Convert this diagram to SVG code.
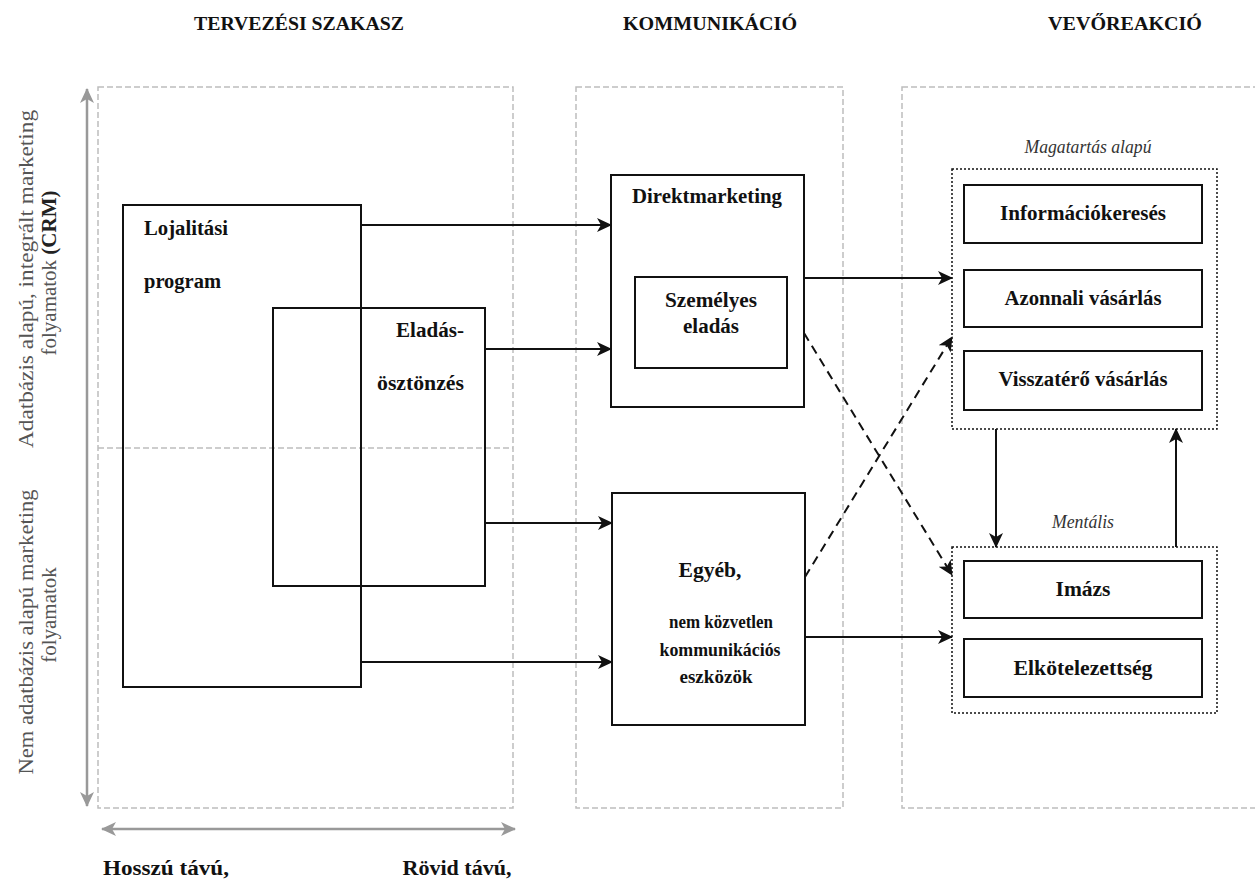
<svg xmlns="http://www.w3.org/2000/svg" width="1255" height="880" viewBox="0 0 1255 880">
<defs>
<style>
text{font-family:"Liberation Serif","DejaVu Serif",serif;fill:#111}
.hdr{font-size:19px;font-weight:bold;text-anchor:middle}
.b{font-size:20px;font-weight:bold;text-anchor:middle}
.s{font-size:19px}
.side{font-size:21px;fill:#555;text-anchor:middle}
.cat{font-size:18px;font-style:italic;fill:#333;text-anchor:middle}
.panel{fill:none;stroke:#bdbdbd;stroke-width:1.5;stroke-dasharray:6 3}
.box{fill:#fff;stroke:#111;stroke-width:2}
.boxn{fill:none;stroke:#111;stroke-width:2}
.dot{fill:none;stroke:#111;stroke-width:1.5;stroke-dasharray:2 2}
.arr{fill:none;stroke:#111;stroke-width:2;marker-end:url(#ah)}
.darr{fill:none;stroke:#111;stroke-width:2;stroke-dasharray:9 6;marker-end:url(#ah)}
.garr{fill:none;stroke:#999;stroke-width:2.5;marker-start:url(#gs);marker-end:url(#ge)}
</style>
<marker id="ah" markerUnits="userSpaceOnUse" markerWidth="16" markerHeight="14" refX="14" refY="7" orient="auto"><path d="M0,0 L15,7 L0,14 L4,7 z" fill="#111"/></marker>
<marker id="ge" markerUnits="userSpaceOnUse" markerWidth="16" markerHeight="14" refX="14" refY="7" orient="auto"><path d="M0,0 L15,7 L0,14 L4,7 z" fill="#999"/></marker>
<marker id="gs" markerUnits="userSpaceOnUse" markerWidth="16" markerHeight="14" refX="1" refY="7" orient="auto"><path d="M15,0 L0,7 L15,14 L11,7 z" fill="#999"/></marker>
</defs>
<rect width="1255" height="880" fill="#fff"/>

<g id="headers">
<text class="hdr" x="299" y="30" textLength="210" lengthAdjust="spacingAndGlyphs">TERVEZÉSI SZAKASZ</text>
<text class="hdr" x="710" y="30" textLength="174" lengthAdjust="spacingAndGlyphs">KOMMUNIKÁCIÓ</text>
<text class="hdr" x="1125" y="30" textLength="154" lengthAdjust="spacingAndGlyphs">VEVŐREAKCIÓ</text>
</g>

<g id="panels">
<rect class="panel" x="98" y="87" width="415" height="721"/>
<line class="panel" x1="98" y1="448" x2="513" y2="448"/>
<rect class="panel" x="576" y="87" width="267" height="721"/>
<rect class="panel" x="902" y="87" width="370" height="721"/>
</g>

<g id="axes">
<line class="garr" x1="87" y1="806" x2="87" y2="89"/>
<line class="garr" x1="102" y1="829" x2="515" y2="829"/>
<text class="side" transform="translate(33,279) rotate(-90)" textLength="338" lengthAdjust="spacingAndGlyphs">Adatbázis alapú, integrált marketing</text>
<text class="side" transform="translate(56,273) rotate(-90)">folyamatok <tspan font-weight="bold" fill="#222">(CRM)</tspan></text>
<text class="side" transform="translate(33,632) rotate(-90)" textLength="285" lengthAdjust="spacingAndGlyphs">Nem adatbázis alapú marketing</text>
<text class="side" transform="translate(56,615) rotate(-90)">folyamatok</text>
<text class="b" x="166" y="875" textLength="126" lengthAdjust="spacingAndGlyphs">Hosszú távú,</text>
<text class="b" x="457" y="875" textLength="109" lengthAdjust="spacingAndGlyphs">Rövid távú,</text>
</g>

<g id="lojalitasi">
<rect class="boxn" x="123" y="205" width="238" height="482"/>
<text class="b" x="144" y="235" style="text-anchor:start" textLength="84" lengthAdjust="spacingAndGlyphs">Lojalitási</text>
<text class="b" x="144" y="288" style="text-anchor:start" textLength="77" lengthAdjust="spacingAndGlyphs">program</text>
</g>

<g id="eladasosztonzes">
<rect class="boxn" x="273" y="308" width="212" height="278"/>
<text class="b" x="464" y="337" style="text-anchor:end" textLength="68" lengthAdjust="spacingAndGlyphs">Eladás-</text>
<text class="b" x="464" y="390" style="text-anchor:end" textLength="87" lengthAdjust="spacingAndGlyphs">ösztönzés</text>
</g>

<g id="direktmarketing">
<rect class="box" x="611" y="175" width="193" height="232"/>
<text class="b" x="707" y="203" textLength="150" lengthAdjust="spacingAndGlyphs">Direktmarketing</text>
</g>

<g id="szemelyes">
<rect class="box" x="635" y="277" width="152" height="91"/>
<text class="b" x="711" y="307" textLength="92" lengthAdjust="spacingAndGlyphs">Személyes</text>
<text class="b" x="711" y="333" textLength="56" lengthAdjust="spacingAndGlyphs">eladás</text>
</g>

<g id="egyeb">
<rect class="box" x="612" y="493" width="193" height="232"/>
<text class="b" x="710" y="577" textLength="63" lengthAdjust="spacingAndGlyphs">Egyéb,</text>
<text class="b s" x="721" y="628" textLength="104" lengthAdjust="spacingAndGlyphs">nem közvetlen</text>
<text class="b s" x="720" y="656" textLength="121" lengthAdjust="spacingAndGlyphs">kommunikációs</text>
<text class="b s" x="716" y="683" textLength="73" lengthAdjust="spacingAndGlyphs">eszközök</text>
</g>

<g id="magatartas">
<text class="cat" x="1088" y="153" textLength="127" lengthAdjust="spacingAndGlyphs">Magatartás alapú</text>
<rect class="dot" x="952" y="169" width="265" height="260"/>
</g>

<g id="informaciokereses">
<rect class="box" x="964" y="185" width="238" height="58"/>
<text class="b" x="1083" y="220" textLength="166" lengthAdjust="spacingAndGlyphs">Információkeresés</text>
</g>
<g id="azonnali">
<rect class="box" x="964" y="270" width="238" height="57"/>
<text class="b" x="1083" y="305" textLength="157" lengthAdjust="spacingAndGlyphs">Azonnali vásárlás</text>
</g>
<g id="visszatero">
<rect class="box" x="964" y="351" width="238" height="59"/>
<text class="b" x="1083" y="386" textLength="169" lengthAdjust="spacingAndGlyphs">Visszatérő vásárlás</text>
</g>

<g id="mentalis">
<text class="cat" x="1083" y="528" textLength="62" lengthAdjust="spacingAndGlyphs">Mentális</text>
<rect class="dot" x="952" y="547" width="265" height="166"/>
</g>
<g id="imazs">
<rect class="box" x="964" y="561" width="238" height="57"/>
<text class="b" x="1083" y="596" textLength="55" lengthAdjust="spacingAndGlyphs">Imázs</text>
</g>
<g id="elkotelezettseg">
<rect class="box" x="964" y="639" width="238" height="58"/>
<text class="b" x="1083" y="675" textLength="139" lengthAdjust="spacingAndGlyphs">Elkötelezettség</text>
</g>

<g id="connectors">
<line class="arr" x1="361" y1="225" x2="611" y2="225"/>
<line class="arr" x1="485" y1="349" x2="611" y2="349"/>
<line class="arr" x1="485" y1="523" x2="612" y2="523"/>
<line class="arr" x1="361" y1="662" x2="612" y2="662"/>
<line class="arr" x1="804" y1="278" x2="952" y2="278"/>
<line class="arr" x1="805" y1="637" x2="952" y2="637"/>
<line class="darr" x1="804" y1="333" x2="952" y2="575"/>
<line class="darr" x1="805" y1="577" x2="952" y2="337"/>
<line class="arr" x1="996" y1="429" x2="996" y2="547"/>
<line class="arr" x1="1176" y1="547" x2="1176" y2="429"/>
</g>
</svg>
